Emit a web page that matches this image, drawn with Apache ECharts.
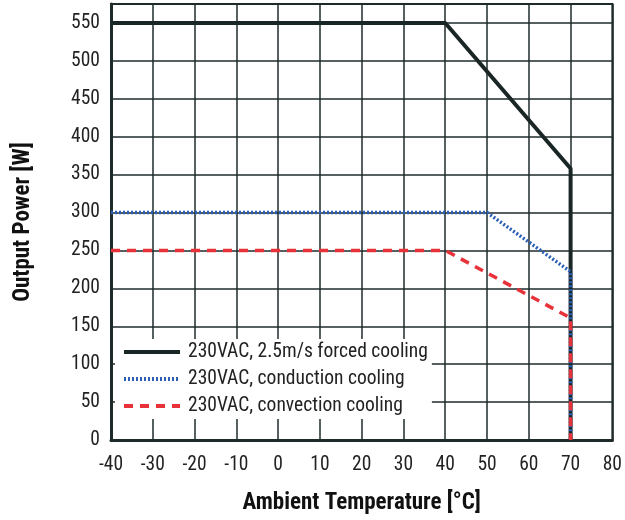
<!DOCTYPE html>
<html>
<head>
<meta charset="utf-8">
<script src="https://cdn.jsdelivr.net/npm/echarts@6/dist/echarts.min.js"></script>
<style>
  html, body { margin: 0; padding: 0; background: #fff; }
  #main { width: 625px; height: 520px; }
</style>
</head>
<body>
<div id="main"></div>
<script>
// 数据
var seriesNames = ['230VAC, 2.5m/s forced cooling', '230VAC, conduction cooling', '230VAC, convection cooling'];
var forcedCooling = [[-40, 550], [40, 550], [70, 358], [70, 0]];
var conductionCooling = [[-40, 300], [50, 300], [70, 222], [70, 0]];
var convectionCooling = [[-40, 250], [40, 250], [70, 161], [70, 0]];

var FONT = '"Liberation Sans Narrow", "Roboto Condensed", Roboto, sans-serif';
var GRID_COLOR = '#1f2b2b';

var myChart = echarts.init(document.getElementById('main'));
myChart.setOption({
    animation: false,
    grid: {
        left: 111, right: 8, top: 4, bottom: 76,
        show: true, borderColor: GRID_COLOR, borderWidth: 2
    },
    legend: {
        orient: 'vertical',
        left: 115, top: 339,
        backgroundColor: '#fff',
        padding: [3, 4, 3, 7],
        itemGap: 7,
        itemWidth: 56, itemHeight: 14,
        itemStyle: { opacity: 0 },
        lineStyle: { width: 4 },
        textStyle: { fontFamily: FONT, fontSize: 19.5, color: '#222', padding: [0, 0, 0, 3] },
        data: seriesNames
    },
    xAxis: {
        type: 'value', min: -40, max: 80, interval: 10,
        name: 'Ambient Temperature [°C]',
        nameLocation: 'middle', nameGap: 52,
        nameTextStyle: { fontFamily: FONT, fontSize: 23, fontWeight: 'bold', color: '#111' },
        axisLine: { show: true, onZero: false, lineStyle: { color: GRID_COLOR, width: 3 } },
        axisTick: { show: false },
        axisLabel: { fontFamily: FONT, fontSize: 19.5, color: '#222', margin: 15 },
        splitLine: { lineStyle: { color: GRID_COLOR, width: 1.5 } }
    },
    yAxis: {
        type: 'value', min: 0, max: 575, interval: 50,
        name: 'Output Power [W]',
        nameLocation: 'middle', nameGap: 76, nameRotate: 90,
        nameTextStyle: { fontFamily: FONT, fontSize: 23, fontWeight: 'bold', color: '#111' },
        axisLine: { show: true, onZero: false, lineStyle: { color: GRID_COLOR, width: 3 } },
        axisTick: { show: false },
        axisLabel: { fontFamily: FONT, fontSize: 19.5, color: '#222', margin: 11, showMaxLabel: false },
        splitLine: { lineStyle: { color: GRID_COLOR, width: 1.5 } }
    },
    series: [
        {
            name: seriesNames[0], type: 'line', data: forcedCooling,
            symbol: 'none', z: 3,
            lineStyle: { color: '#1a2626', width: 4, type: 'solid' },
            itemStyle: { color: '#000' }
        },
        {
            name: seriesNames[1], type: 'line', data: conductionCooling,
            symbol: 'none', z: 4,
            lineStyle: { color: '#2b5fb5', width: 3.5, type: [2, 2] },
            itemStyle: { color: '#2b5fb5' }
        },
        {
            name: seriesNames[2], type: 'line', data: convectionCooling,
            symbol: 'none', z: 5,
            lineStyle: { color: '#e8323a', width: 3.5, type: [9, 7] },
            itemStyle: { color: '#e8323a' }
        }
    ]
});
</script>
</body>
</html>
